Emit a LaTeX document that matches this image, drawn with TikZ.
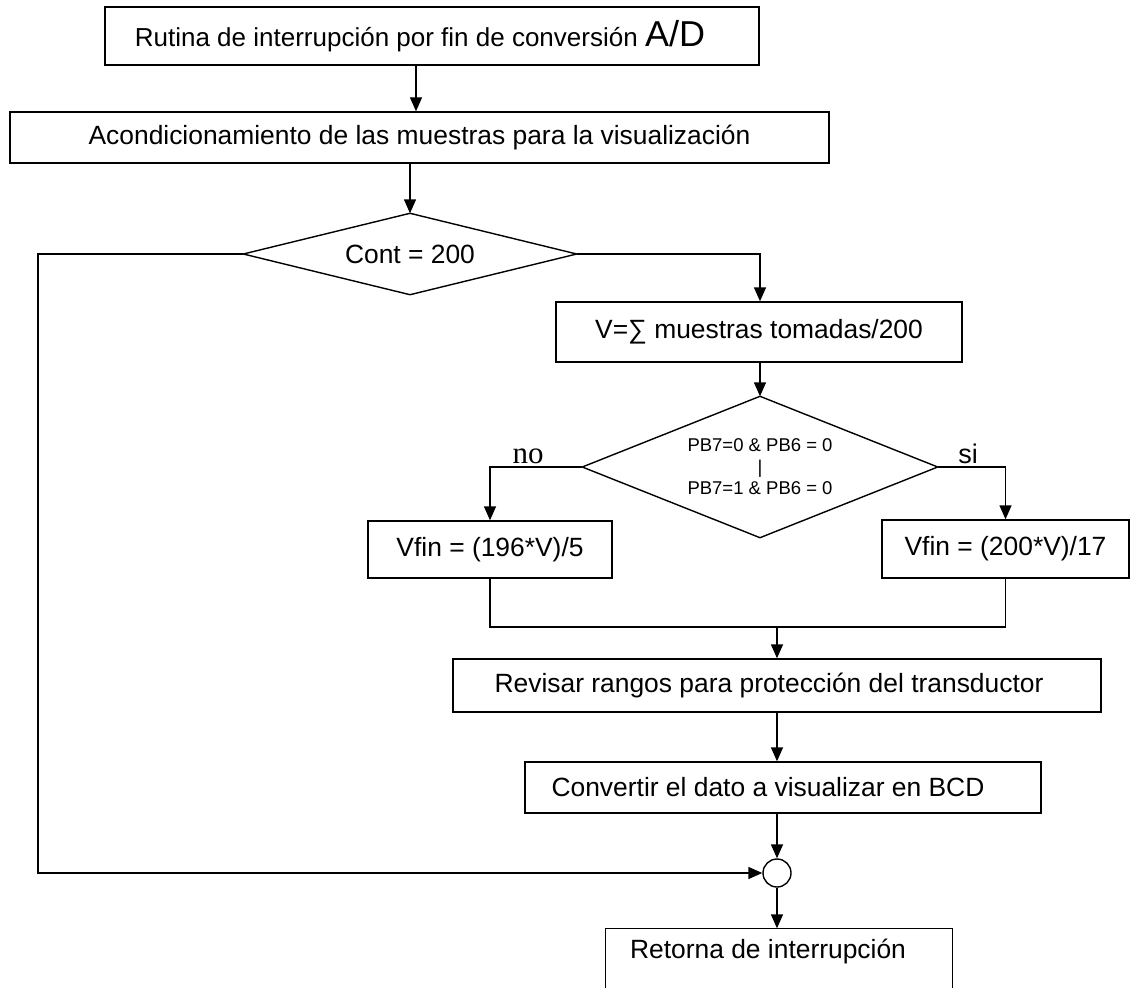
\documentclass[tikz,border=0pt]{standalone}
\usepackage{fontspec}
\setmainfont{Liberation Sans}
\newfontfamily\timesf{Liberation Serif}
\usetikzlibrary{shapes.geometric,arrows.meta}
\begin{document}
\begin{tikzpicture}[x=1pt,y=-1pt,line width=1.4pt,
  box/.style={draw,rectangle,inner sep=0pt,font=\fontsize{26.4}{30}\selectfont},
  decbox/.style={rectangle,inner sep=0pt},
  arr/.style={-{Triangle[length=14pt,width=12pt]}},
  lbl/.style={inner sep=0pt,anchor=base}
]
\useasboundingbox[fill=white] (0,0) rectangle (1131,987);
% boxes
\node[box,minimum width=654,minimum height=58,font=\fontsize{26}{30}\selectfont] (b1) at (432,36)
  {Rutina de interrupción por fin de conversión {\fontsize{36}{38}\selectfont A/D}\hspace*{24pt}};
\node[box,minimum width=819,minimum height=51] (b2) at (419.5,137.5)
  {Acondicionamiento de las muestras para la visualización};
\node[decbox,minimum width=332,minimum height=80,font=\fontsize{26.4}{30}\selectfont] (d1) at (410,254) {Cont = 200};
\draw (d1.west) -- (d1.north) -- (d1.east) -- (d1.south) -- cycle;
\node[box,minimum width=406,minimum height=60] (b3) at (759,332) {\raisebox{6pt}{V=∑ muestras tomadas/200}};
\node[decbox,minimum width=354,minimum height=140,align=center,
  font=\fontsize{18.5}{21.5}\selectfont] (d2) at (760,467)
  {PB7=0 \& PB6 = 0\\|\\PB7=1 \& PB6 = 0};
\draw (d2.west) -- (d2.north) -- (d2.east) -- (d2.south) -- cycle;
\node[box,minimum width=244,minimum height=57] (b4) at (490,549.5) {Vfin = (196*V)/5};
\node[box,minimum width=247,minimum height=58] (b5) at (1005.5,549) {Vfin = (200*V)/17};
\node[box,minimum width=648,minimum height=53] (b6) at (777,685.5) {Revisar rangos para protección del transductor\hspace*{16pt}};
\node[box,minimum width=516,minimum height=51] (b7) at (783,787.5) {Convertir el dato a visualizar en BCD\hspace*{30pt}};
\node[draw,circle,minimum size=28,inner sep=0pt] (c) at (777,873) {};
\node[rectangle,inner sep=0pt,minimum width=346,minimum height=46,
  font=\fontsize{26.4}{30}\selectfont] (b8) at (779,952) {Retorna de interrupción\hspace*{22pt}};
\draw (b8.north west) -- (b8.north east);
\draw (b8.north west) -- ++(0,70);
\draw (b8.north east) -- ++(0,70);
% labels
\node[lbl,font=\timesf\fontsize{31}{32}\selectfont] (no) at (528,463) {no};
\node[lbl,font=\fontsize{27}{28}\selectfont] (si) at (968,463) {si};
% coordinates
\coordinate (m) at (777,627);
% connectors
\draw[arr] (b1.south -| 416,0) -- (b2.north -| 416,0);
\draw[arr] (b2.south -| d1.north) -- (d1.north);
\draw[arr] (d1.east) -| (b3.north -| d2.north);
\draw[arr] (b3.south -| d2.north) -- (d2.north);
\draw[arr] (d2.west) -| (b4.north);
\draw[arr] (d2.east) -| (b5.north);
\draw (b4.south) |- (m) -| (b5.south);
\draw[arr] (m) -- (b6.north -| m);
\draw[arr] (b6.south -| c.north) -- (b7.north -| c.north);
\draw[arr] (b7.south -| c.north) -- (c.north);
\draw[arr] (c.south) -- (b8.north -| c.south);
\draw[arr] (d1.west) -| (38,600) |- (c.west);
\end{tikzpicture}
\end{document}
